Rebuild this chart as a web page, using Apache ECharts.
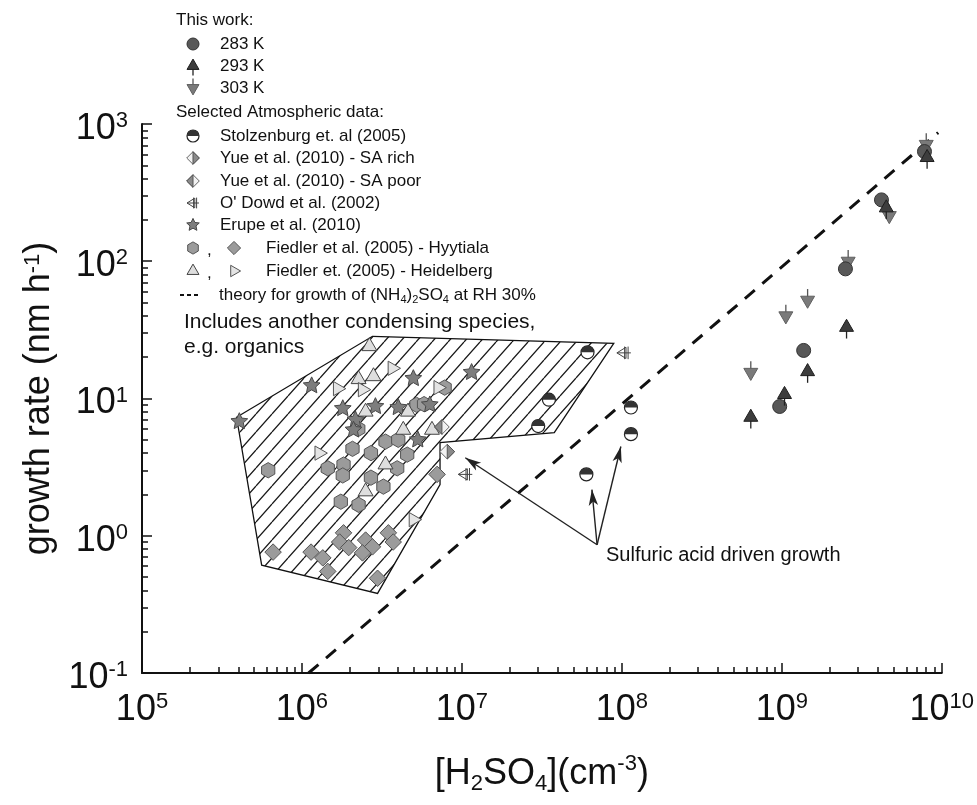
<!DOCTYPE html>
<html>
<head>
<meta charset="utf-8">
<script src="https://cdn.jsdelivr.net/npm/echarts@6/dist/echarts.min.js"></script>
<style>
  html, body { margin: 0; padding: 0; background: #fff; }
  #chart { width: 977px; height: 805px; }
</style>
</head>
<body>
<div id="chart"></div>
<script>
const FONT = '"Liberation Sans", Arial, Helvetica, sans-serif';

// ---- values ----
const xDecades = [1e5, 1e6, 1e7, 1e8, 1e9, 1e10];
const yDecades = [0.1, 1, 10, 100, 1000];

// this work
const gr283 = [[9.7e8, 8.75], [1.37e9, 22.4], [2.5e9, 88], [4.2e9, 280], [7.8e9, 630]];
const gr293 = [[6.4e8, 7.3], [1.04e9, 10.7], [1.45e9, 15.7], [2.54e9, 33], [4.5e9, 245], [8.1e9, 570]];
const gr303 = [[6.4e8, 15.5], [1.06e9, 40], [1.45e9, 52], [2.6e9, 100], [4.7e9, 215], [8.0e9, 710]];

// atmospheric data
const stolzenburg = [[3.0e7, 6.3], [3.5e7, 9.8], [6.1e7, 21.7], [6.0e7, 2.8], [1.14e8, 8.6], [1.14e8, 5.5]];
const yueRich = [[8.1e6, 4.1]];
const yuePoor = [[7.5e6, 6.2]];
const oDowd = [[1.03e8, 21.5], [1.05e7, 2.8]];
const erupe = [[4.06e5, 6.8], [1.15e6, 12.4], [1.8e6, 8.45], [2.16e6, 7.0], [2.1e6, 5.9], [2.88e6, 8.75],
  [4.0e6, 8.6], [4.97e6, 14.0], [6.3e6, 9.0], [5.3e6, 5.0], [1.15e7, 15.5]];
const hyyHex = [[6.15e5, 3.0], [1.45e6, 3.1], [1.82e6, 3.3], [1.8e6, 2.75], [2.07e6, 4.3], [2.7e6, 4.0],
  [3.33e6, 4.85], [2.7e6, 2.65], [3.23e6, 2.28], [1.75e6, 1.77], [2.26e6, 1.68], [3.94e6, 3.1],
  [4.55e6, 3.9], [4.0e6, 5.0], [2.25e6, 6.0], [5.2e6, 9.0], [5.8e6, 9.1], [7.8e6, 12.0]];
const hyyDia = [[6.6e5, 0.76], [1.14e6, 0.76], [1.35e6, 0.69], [1.45e6, 0.55], [1.82e6, 1.05], [1.72e6, 0.9],
  [1.96e6, 0.82], [2.5e6, 0.93], [2.76e6, 0.83], [2.39e6, 0.75], [3.47e6, 1.05], [3.72e6, 0.9],
  [2.97e6, 0.49], [7.0e6, 2.8]];
const heidUp = [[2.64e6, 24], [2.26e6, 13.8], [2.8e6, 14.5], [2.5e6, 8.0], [4.6e6, 8.0], [4.3e6, 5.9],
  [6.5e6, 5.9], [3.33e6, 3.3], [2.5e6, 2.1]];
const heidRight = [[3.67e6, 16.6], [1.67e6, 11.8], [2.39e6, 11.6], [1.28e6, 4.0], [4.97e6, 1.31], [7.1e6, 12]];

// hatched region "includes another condensing species"
const hatchX = [3.9e5, 5.6e5, 2.97e6, 7.3e6, 7.3e6, 3.78e7, 8.9e7, 2.76e6];
const hatchY = [7.3, 0.61, 0.38, 2.36, 4.78, 5.65, 25.2, 28.4];

// theory line for (NH4)2SO4 at RH 30%
const theoryX = [1.1e6, 9.5e9];
const theoryY = [0.1, 865];

// arrows "sulfuric acid driven growth"
const arrowTail = [7.0e7, 0.86];
const arrowTips = [[1.05e7, 3.7], [6.5e7, 2.17], [9.86e7, 4.47]];

// ---- marker drawing (shared by plot and legend) ----
function ring(cx, cy, R, n, a0, inner) {
  const pts = [];
  for (let i = 0; i < n; i++) {
    const a = a0 + i * 2 * Math.PI / n;
    const rr = inner && i % 2 ? R * inner : R;
    pts.push([cx + rr * Math.cos(a), cy + rr * Math.sin(a)]);
  }
  return pts;
}
const D = Math.PI / 180;

function marker(kind, cx, cy, s) {
  const r = s / 2;
  switch (kind) {
    case 'c283':
      return [{ type: 'circle', shape: { cx, cy, r }, style: { fill: '#585858', stroke: '#333', lineWidth: 1 } }];
    case 't293':
      return [
        { type: 'line', shape: { x1: cx, y1: cy, x2: cx, y2: cy + r * 1.6 }, style: { stroke: '#222', lineWidth: 1.3 } },
        { type: 'polygon', shape: { points: ring(cx, cy, r * 1.15, 3, -90 * D) }, style: { fill: '#3d3d3d', stroke: '#1e1e1e', lineWidth: 1 } }];
    case 't303':
      return [
        { type: 'line', shape: { x1: cx, y1: cy, x2: cx, y2: cy - r * 1.6 }, style: { stroke: '#555', lineWidth: 1.3 } },
        { type: 'polygon', shape: { points: ring(cx, cy, r * 1.15, 3, 90 * D) }, style: { fill: '#7a7a7a', stroke: '#606060', lineWidth: 1 } }];
    case 'stolz':
      return [
        { type: 'circle', shape: { cx, cy, r }, style: { fill: '#fff', stroke: '#222', lineWidth: 1.2 } },
        { type: 'sector', shape: { cx, cy, r, r0: 0, startAngle: Math.PI, endAngle: 2 * Math.PI }, style: { fill: '#333' } }];
    case 'yueRich':
    case 'yuePoor': {
      const R = r * 1.05;
      const side = kind === 'yueRich' ? 1 : -1;
      return [
        { type: 'polygon', shape: { points: [[cx, cy - R], [cx + R, cy], [cx, cy + R], [cx - R, cy]] }, style: { fill: '#f2f2f2', stroke: '#666', lineWidth: 1 } },
        { type: 'polygon', shape: { points: [[cx, cy - R], [cx + side * R, cy], [cx, cy + R]] }, style: { fill: '#8a8a8a', stroke: '#555', lineWidth: 1 } }];
    }
    case 'odowd': {
      const R = r;
      const st = { stroke: '#444', lineWidth: 1, fill: null };
      return [
        { type: 'polygon', shape: { points: [[cx - R, cy], [cx + 0.3 * R, cy - 0.8 * R], [cx + 0.3 * R, cy + 0.8 * R]] }, style: { fill: '#fff', stroke: '#444', lineWidth: 1 } },
        { type: 'line', shape: { x1: cx - R, y1: cy, x2: cx + R, y2: cy }, style: st },
        { type: 'line', shape: { x1: cx + 0.1 * R, y1: cy - 0.9 * R, x2: cx + 0.1 * R, y2: cy + 0.9 * R }, style: st },
        { type: 'line', shape: { x1: cx + 0.6 * R, y1: cy - 0.9 * R, x2: cx + 0.6 * R, y2: cy + 0.9 * R }, style: st }];
    }
    case 'star':
      return [{ type: 'polygon', shape: { points: ring(cx, cy, r * 1.1, 10, -90 * D, 0.48) }, style: { fill: '#7d7d7d', stroke: '#484848', lineWidth: 1 } }];
    case 'hex':
      return [{ type: 'polygon', shape: { points: ring(cx, cy, r * 1.02, 6, -90 * D) }, style: { fill: '#9b9b9b', stroke: '#555', lineWidth: 1 } }];
    case 'dia': {
      const R = r * 1.1;
      return [{ type: 'polygon', shape: { points: [[cx, cy - R], [cx + R, cy], [cx, cy + R], [cx - R, cy]] }, style: { fill: '#9b9b9b', stroke: '#555', lineWidth: 1 } }];
    }
    case 'hUp':
      return [{ type: 'polygon', shape: { points: ring(cx, cy, r * 1.15, 3, -90 * D) }, style: { fill: '#dedede', stroke: '#444', lineWidth: 1 } }];
    case 'hRight':
      return [{ type: 'polygon', shape: { points: ring(cx, cy, r * 1.1, 3, 0) }, style: { fill: '#e4e4e4', stroke: '#555', lineWidth: 1 } }];
  }
  return [];
}

function markerSeries(name, data, kind, size, z) {
  return {
    type: 'custom', name, data, z: z || 3, silent: true,
    encode: { x: 0, y: 1 },
    renderItem: (params, api) => {
      const p = api.coord([api.value(0), api.value(1)]);
      return { type: 'group', children: marker(kind, p[0], p[1], size) };
    }
  };
}

// hatch pattern tile
function hatchTile() {
  const w = 16, h = 18;
  const c = document.createElement('canvas');
  c.width = w; c.height = h;
  const ctx = c.getContext('2d');
  ctx.fillStyle = '#fff';
  ctx.fillRect(0, 0, w, h);
  ctx.strokeStyle = '#1a1a1a';
  ctx.lineWidth = 1.3;
  ctx.beginPath();
  for (let k = -1; k <= 1; k++) {
    ctx.moveTo(k * w, h);
    ctx.lineTo(k * w + w, 0);
  }
  ctx.stroke();
  return c;
}
const hatchCanvas = hatchTile();

function minorTicks(decs) {
  const out = [];
  decs.slice(0, -1).forEach(d => { for (let k = 2; k <= 9; k++) out.push(k * d); });
  return out;
}

const powRich = {
  b: { fontSize: 36, fontFamily: FONT, color: '#111', lineHeight: 38 },
  s: { fontSize: 22, fontFamily: FONT, color: '#111', verticalAlign: 'top', lineHeight: 22 }
};
const powLabel = v => '{b|10}{s|' + Math.round(Math.log10(v)) + '}';

// ---- legend (graphic) ----
const legendY = [20, 44, 66, 88, 112, 136, 158, 181, 203, 225, 248, 271, 295];
const legendItems = [
  { head: 'This work:' },
  { kinds: ['c283'], text: '283 K' },
  { kinds: ['t293'], text: '293 K' },
  { kinds: ['t303'], text: '303 K' },
  { head: 'Selected Atmospheric data:' },
  { kinds: ['stolz'], text: 'Stolzenburg et. al (2005)' },
  { kinds: ['yueRich'], text: 'Yue et al. (2010) - SA rich' },
  { kinds: ['yuePoor'], text: 'Yue et al. (2010) - SA poor' },
  { kinds: ['odowd'], text: "O' Dowd et al. (2002)" },
  { kinds: ['star'], text: 'Erupe et al. (2010)' },
  { kinds: ['hex', 'dia'], text: 'Fiedler et al. (2005) - Hyytiala' },
  { kinds: ['hUp', 'hRight'], text: 'Fiedler et. (2005) - Heidelberg' },
  { dash: true, text: 'theory for growth of (NH{sub|4}){sub|2}SO{sub|4} at RH 30%' }
];

const txtStyle = (text, size) => ({ text, fontSize: size, fontFamily: FONT, fill: '#111', verticalAlign: 'middle' });
const subRich = { sub: { fontSize: 11, fontFamily: FONT, fill: '#111', padding: [9, 0, 0, 0] } };

const graphics = [];
legendItems.forEach((it, i) => {
  const y = legendY[i];
  if (it.head) {
    graphics.push({ type: 'text', x: 176, y, style: txtStyle(it.head, 17) });
    return;
  }
  if (it.dash) {
    [180, 187, 194].forEach(x0 => graphics.push({ type: 'line', shape: { x1: x0, y1: y, x2: x0 + 4, y2: y }, style: { stroke: '#111', lineWidth: 2 } }));
    graphics.push({ type: 'text', x: 219, y, style: Object.assign(txtStyle(it.text, 17), { rich: subRich }) });
    return;
  }
  if (it.kinds.length === 1) {
    marker(it.kinds[0], 193, y, 12).forEach(e => graphics.push(e));
    graphics.push({ type: 'text', x: 220, y, style: txtStyle(it.text, 17) });
  } else {
    marker(it.kinds[0], 193, y, 12).forEach(e => graphics.push(e));
    graphics.push({ type: 'text', x: 207, y: y + 2, style: txtStyle(',', 17) });
    marker(it.kinds[1], 234, y, 12).forEach(e => graphics.push(e));
    graphics.push({ type: 'text', x: 266, y, style: txtStyle(it.text, 17) });
  }
});
graphics.push({ type: 'text', x: 184, y: 322, style: txtStyle('Includes another condensing species,', 21) });
graphics.push({ type: 'text', x: 184, y: 347, style: txtStyle('e.g. organics', 21) });
graphics.push({ type: 'text', x: 606, y: 555, style: txtStyle('Sulfuric acid driven growth', 20) });

const chart = echarts.init(document.getElementById('chart'));

const baseAxis = {
  type: 'log', logBase: 10,
  splitLine: { show: false },
  axisLine: { show: true, lineStyle: { color: '#111', width: 2 } }
};

const option = {
  animation: false,
  backgroundColor: '#fff',
  grid: { left: 142, right: 33, top: 124, bottom: 132 },
  xAxis: [
    Object.assign({}, baseAxis, {
      min: 1e5, max: 1e10, position: 'bottom',
      axisTick: { show: true, inside: true, length: 6, customValues: minorTicks(xDecades), lineStyle: { color: '#111', width: 1.5 } },
      axisLabel: { customValues: xDecades, formatter: powLabel, rich: powRich, margin: 18 },
      name: '[H{sub|2}SO{sub|4}](cm{sup|-3})',
      nameLocation: 'middle', nameGap: 80,
      nameTextStyle: {
        fontSize: 36, fontFamily: FONT, color: '#111',
        rich: {
          sub: { fontSize: 22, fontFamily: FONT, color: '#111', padding: [20, 0, 0, 0] },
          sup: { fontSize: 22, fontFamily: FONT, color: '#111', verticalAlign: 'top' }
        }
      }
    }),
    Object.assign({}, baseAxis, {
      min: 1e5, max: 1e10, position: 'bottom',
      axisLine: { show: false },
      axisTick: { show: true, inside: true, length: 10, customValues: xDecades, lineStyle: { color: '#111', width: 1.5 } },
      axisLabel: { show: false }
    })
  ],
  yAxis: [
    Object.assign({}, baseAxis, {
      min: 0.1, max: 1000, position: 'left',
      axisTick: { show: true, inside: true, length: 6, customValues: minorTicks(yDecades), lineStyle: { color: '#111', width: 1.5 } },
      axisLabel: { customValues: yDecades, formatter: powLabel, rich: powRich, margin: 14, padding: [10, 0, 0, 0] },
      name: 'growth rate (nm h{sup|-1})',
      nameLocation: 'middle', nameGap: 70, nameRotate: 90,
      nameTextStyle: {
        fontSize: 36, fontFamily: FONT, color: '#111',
        rich: { sup: { fontSize: 22, fontFamily: FONT, color: '#111', verticalAlign: 'top' } }
      }
    }),
    Object.assign({}, baseAxis, {
      min: 0.1, max: 1000, position: 'left',
      axisLine: { show: false },
      axisTick: { show: true, inside: true, length: 10, customValues: yDecades, lineStyle: { color: '#111', width: 1.5 } },
      axisLabel: { show: false }
    })
  ],
  graphic: graphics,
  series: [
    {
      type: 'custom', name: 'region', z: 1, silent: true,
      data: hatchX.map((x, i) => [x, hatchY[i]]),
      encode: { x: 0, y: 1 },
      renderItem: (params, api) => {
        if (params.dataIndex !== 0) return null;
        const pts = hatchX.map((x, i) => api.coord([x, hatchY[i]]));
        return {
          type: 'polygon', shape: { points: pts },
          style: { fill: { image: hatchCanvas, repeat: 'repeat' }, stroke: '#111', lineWidth: 1.3 }
        };
      }
    },
    {
      type: 'line', name: 'theory', z: 2, silent: true,
      data: theoryX.map((x, i) => [x, theoryY[i]]),
      symbol: 'none',
      lineStyle: { color: '#111', width: 3, type: [13, 10] },
      markLine: {
        silent: true,
        symbol: ['none', 'arrow'],
        symbolSize: [7, 16],
        label: { show: false },
        lineStyle: { type: 'solid', color: '#222', width: 1.4 },
        data: arrowTips.map(t => [{ coord: arrowTail }, { coord: t }])
      }
    },
    markerSeries('Hyytiala diamonds', hyyDia, 'dia', 15),
    markerSeries('Hyytiala hexagons', hyyHex, 'hex', 15),
    markerSeries('Erupe', erupe, 'star', 16),
    markerSeries('Heidelberg up', heidUp, 'hUp', 15),
    markerSeries('Heidelberg right', heidRight, 'hRight', 15),
    markerSeries('Yue rich', yueRich, 'yueRich', 14),
    markerSeries('Yue poor', yuePoor, 'yuePoor', 14),
    markerSeries('ODowd', oDowd, 'odowd', 14),
    markerSeries('Stolzenburg', stolzenburg, 'stolz', 13),
    markerSeries('303 K', gr303, 't303', 14),
    markerSeries('283 K', gr283, 'c283', 14),
    markerSeries('293 K', gr293, 't293', 14)
  ]
};

chart.setOption(option);
</script>
</body>
</html>
